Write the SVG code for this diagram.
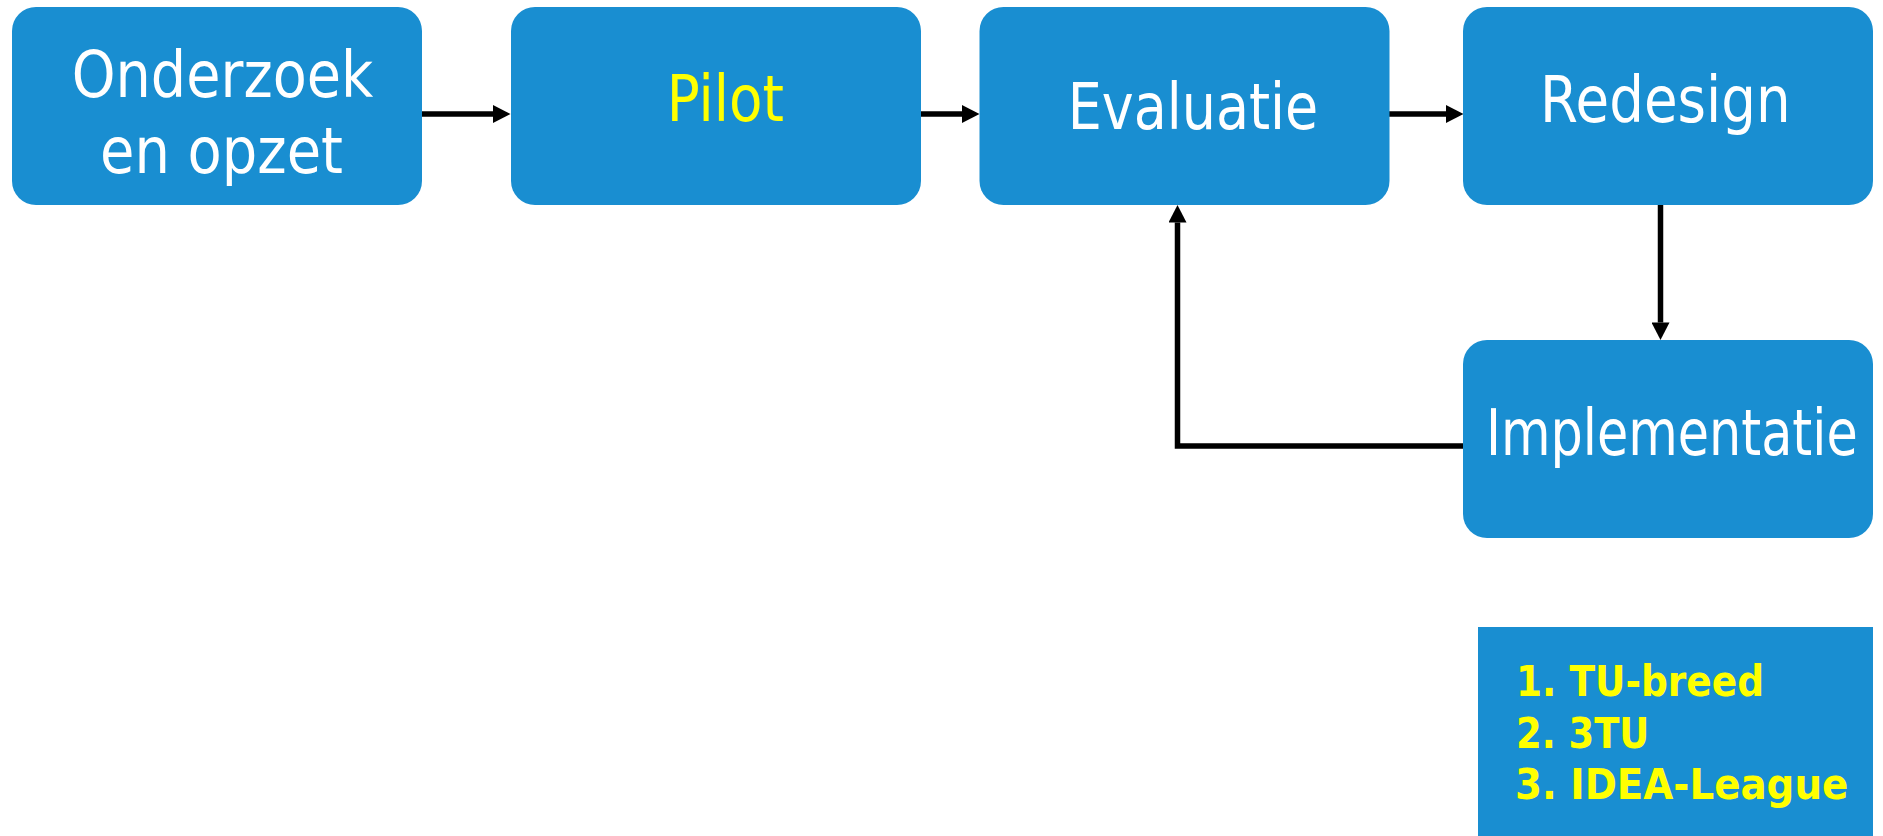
<svg xmlns="http://www.w3.org/2000/svg" width="1883" height="836" viewBox="0 0 1883 836">
  <style>
    .box { fill: #198ED1; }
    .lbl { font-family: "DejaVu Sans", "Liberation Sans", sans-serif; font-size: 64px; fill: #FFFFFF; }
    .yel { fill: #FFFF00; }
    .list { font-family: "DejaVu Sans", "Liberation Sans", sans-serif; font-size: 42.5px; font-weight: bold; fill: #FFFF00; }
    .conn { fill: none; stroke: #000000; stroke-width: 5.5; stroke-linejoin: miter; }
  </style>
  <defs>
    <marker id="arrow" markerUnits="userSpaceOnUse" markerWidth="18" markerHeight="18" viewBox="0 0 17.5 18" refX="0" refY="9" orient="auto">
      <path d="M0,0 L17.5,9 L0,18 Z" fill="#000000"/>
    </marker>
  </defs>
  <rect width="1883" height="836" fill="#FFFFFF"/>

  <g id="connectors">
    <path class="conn" d="M421,114 H493" marker-end="url(#arrow)"/>
    <path class="conn" d="M920,114 H962" marker-end="url(#arrow)"/>
    <path class="conn" d="M1389,114 H1446" marker-end="url(#arrow)"/>
    <path class="conn" d="M1660.5,205 V322.5" marker-end="url(#arrow)"/>
    <path class="conn" d="M1464,446 H1177.5 V222.5" marker-end="url(#arrow)"/>
  </g>

  <g id="node-onderzoek">
    <rect class="box" x="12" y="7" width="410" height="198" rx="24" ry="24"/>
    <text class="lbl" x="71.7" y="97" textLength="301.6" lengthAdjust="spacingAndGlyphs">Onderzoek</text>
    <text class="lbl" x="100" y="172.5" textLength="243" lengthAdjust="spacingAndGlyphs">en opzet</text>
  </g>

  <g id="node-pilot">
    <rect class="box" x="511" y="7" width="410" height="198" rx="24" ry="24"/>
    <text class="lbl yel" x="666.7" y="120.7" textLength="117.2" lengthAdjust="spacingAndGlyphs">Pilot</text>
  </g>

  <g id="node-evaluatie">
    <rect class="box" x="979.5" y="7" width="410" height="198" rx="24" ry="24"/>
    <text class="lbl" x="1067.7" y="129.3" textLength="250.6" lengthAdjust="spacingAndGlyphs">Evaluatie</text>
  </g>

  <g id="node-redesign">
    <rect class="box" x="1463" y="7" width="410" height="198" rx="24" ry="24"/>
    <text class="lbl" x="1540" y="121.7" textLength="250.7" lengthAdjust="spacingAndGlyphs">Redesign</text>
  </g>

  <g id="node-implementatie">
    <rect class="box" x="1463" y="340" width="410" height="198" rx="24" ry="24"/>
    <text class="lbl" x="1486" y="455" font-size="58" textLength="371.7" lengthAdjust="spacingAndGlyphs">Implementatie</text>
  </g>

  <g id="node-list">
    <rect class="box" x="1478" y="627" width="395" height="209"/>
    <text class="list" x="1516" y="696" textLength="248" lengthAdjust="spacingAndGlyphs">1. TU-breed</text>
    <text class="list" x="1516" y="747.7" textLength="133.3" lengthAdjust="spacingAndGlyphs">2. 3TU</text>
    <text class="list" x="1515" y="799.3" textLength="333.3" lengthAdjust="spacingAndGlyphs">3. IDEA-League</text>
  </g>
</svg>
